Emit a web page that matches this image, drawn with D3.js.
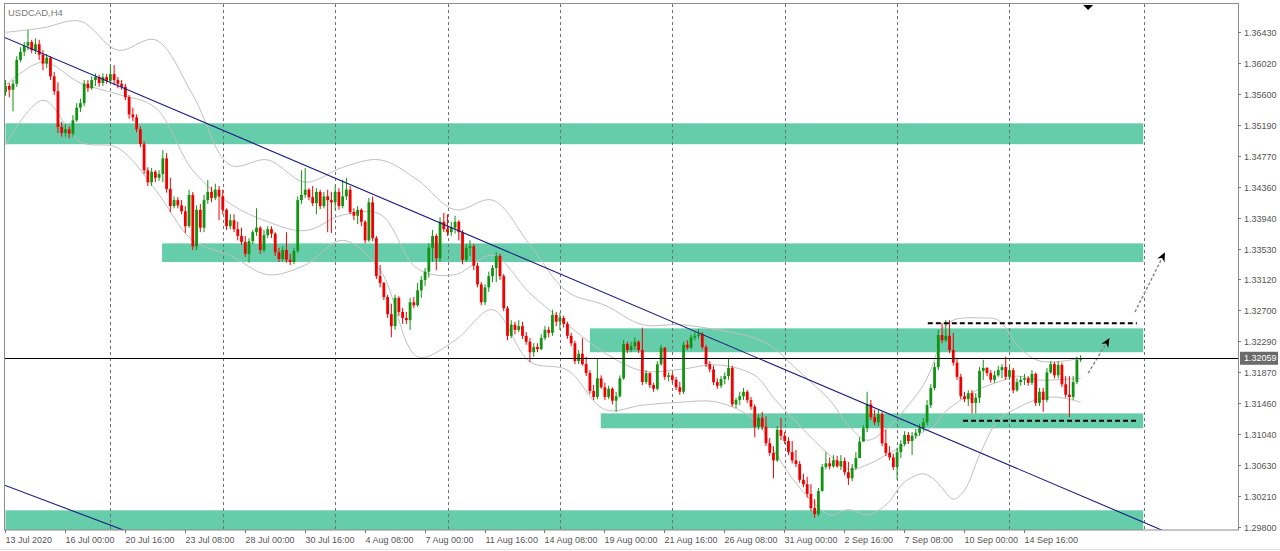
<!DOCTYPE html>
<html><head><meta charset="utf-8">
<script src="https://cdn.jsdelivr.net/npm/d3@7"></script>
<style>body{margin:0;background:#fff;overflow:hidden}</style>
</head><body>
<svg id="chart" width="1280" height="551"></svg>
<script>
const symbolLabel = "USDCAD,H4";
const firstOpen = 1.3563;
const closes = [1.3571,1.3566,1.3574,1.3606,1.3617,1.3625,1.3630,1.3619,1.3627,1.3613,
1.3601,1.3609,1.3584,1.3564,1.3516,1.3508,1.3513,1.3507,1.3525,1.3542,
1.3548,1.3574,1.3568,1.3579,1.3583,1.3575,1.3583,1.3578,1.3587,1.3579,
1.3574,1.3570,1.3556,1.3533,1.3529,1.3513,1.3493,1.3458,1.3442,1.3456,
1.3448,1.3453,1.3474,1.3433,1.3410,1.3418,1.3411,1.3403,1.3383,1.3425,
1.3356,1.3405,1.3381,1.3418,1.3429,1.3421,1.3432,1.3423,1.3405,1.3383,
1.3391,1.3379,1.3370,1.3362,1.3346,1.3363,1.3375,1.3381,1.3351,1.3371,
1.3379,1.3373,1.3348,1.3339,1.3351,1.3338,1.3335,1.3350,1.3418,1.3425,
1.3432,1.3422,1.3414,1.3429,1.3410,1.3423,1.3418,1.3415,1.3429,1.3410,
1.3423,1.3432,1.3402,1.3397,1.3405,1.3389,1.3364,1.3415,1.3367,1.3316,
1.3307,1.3288,1.3265,1.3249,1.3287,1.3268,1.3260,1.3257,1.3281,1.3277,
1.3297,1.3311,1.3322,1.3354,1.3370,1.3340,1.3389,1.3379,1.3375,1.3381,
1.3389,1.3375,1.3338,1.3354,1.3356,1.3330,1.3305,1.3281,1.3301,1.3316,
1.3327,1.3343,1.3316,1.3273,1.3236,1.3251,1.3244,1.3249,1.3236,1.3228,
1.3214,1.3221,1.3218,1.3233,1.3244,1.3240,1.3264,1.3255,1.3260,1.3252,
1.3236,1.3226,1.3202,1.3212,1.3198,1.3186,1.3162,1.3154,1.3179,1.3167,
1.3154,1.3165,1.3149,1.3155,1.3179,1.3225,1.3217,1.3222,1.3228,1.3217,
1.3174,1.3186,1.3170,1.3165,1.3198,1.3220,1.3181,1.3183,1.3177,1.3167,
1.3161,1.3224,1.3220,1.3234,1.3236,1.3238,1.3221,1.3198,1.3191,1.3174,
1.3169,1.3178,1.3182,1.3193,1.3144,1.3150,1.3155,1.3161,1.3150,1.3141,
1.3114,1.3126,1.3114,1.3092,1.3079,1.3069,1.3110,1.3102,1.3095,1.3080,
1.3069,1.3064,1.3043,1.3037,1.3024,1.3005,1.2997,1.3028,1.3060,1.3065,
1.3061,1.3069,1.3061,1.3068,1.3053,1.3045,1.3059,1.3072,1.3094,1.3112,
1.3144,1.3127,1.3120,1.3131,1.3092,1.3079,1.3073,1.3060,1.3080,1.3091,
1.3103,1.3095,1.3102,1.3106,1.3112,1.3120,1.3143,1.3166,1.3194,1.3237,
1.3230,1.3236,1.3217,1.3200,1.3181,1.3155,1.3151,1.3159,1.3146,1.3153,
1.3189,1.3193,1.3186,1.3177,1.3183,1.3190,1.3194,1.3181,1.3190,1.3163,
1.3174,1.3177,1.3179,1.3173,1.3185,1.3146,1.3161,1.3150,1.3187,1.3198,
1.3183,1.3197,1.3171,1.3157,1.3154,1.3174,1.3204,1.32059];
const highs = [1.3579,1.3575,1.3579,1.3611,1.3623,1.3630,1.3646,1.3633,1.3635,1.3633,
1.3619,1.3614,1.3611,1.3590,1.3576,1.3523,1.3520,1.3517,1.3532,1.3548,
1.3554,1.3579,1.3579,1.3584,1.3588,1.3586,1.3588,1.3587,1.3598,1.3599,
1.3583,1.3579,1.3574,1.3559,1.3542,1.3533,1.3517,1.3497,1.3462,1.3461,
1.3458,1.3458,1.3485,1.3481,1.3448,1.3423,1.3422,1.3418,1.3410,1.3432,
1.3429,1.3411,1.3413,1.3425,1.3445,1.3436,1.3440,1.3437,1.3432,1.3407,
1.3399,1.3399,1.3389,1.3381,1.3370,1.3367,1.3378,1.3407,1.3383,1.3378,
1.3383,1.3383,1.3375,1.3354,1.3356,1.3375,1.3346,1.3354,1.3423,1.3458,
1.3461,1.3434,1.3437,1.3434,1.3432,1.3429,1.3432,1.3429,1.3437,1.3434,
1.3445,1.3448,1.3437,1.3407,1.3410,1.3407,1.3391,1.3421,1.3423,1.3370,
1.3331,1.3308,1.3291,1.3279,1.3291,1.3289,1.3273,1.3268,1.3287,1.3288,
1.3307,1.3316,1.3327,1.3360,1.3378,1.3373,1.3395,1.3401,1.3399,1.3389,
1.3397,1.3391,1.3378,1.3359,1.3364,1.3359,1.3334,1.3308,1.3305,1.3322,
1.3331,1.3348,1.3346,1.3319,1.3276,1.3257,1.3255,1.3257,1.3255,1.3241,
1.3233,1.3226,1.3226,1.3238,1.3249,1.3248,1.3271,1.3268,1.3267,1.3263,
1.3255,1.3240,1.3229,1.3217,1.3233,1.3208,1.3190,1.3170,1.3206,1.3183,
1.3173,1.3169,1.3167,1.3161,1.3183,1.3230,1.3228,1.3228,1.3234,1.3230,
1.3247,1.3190,1.3187,1.3173,1.3202,1.3224,1.3221,1.3187,1.3186,1.3181,
1.3174,1.3228,1.3230,1.3238,1.3241,1.3245,1.3241,1.3224,1.3202,1.3196,
1.3179,1.3182,1.3187,1.3206,1.3196,1.3153,1.3161,1.3166,1.3163,1.3154,
1.3144,1.3131,1.3134,1.3128,1.3099,1.3088,1.3115,1.3126,1.3107,1.3100,
1.3095,1.3083,1.3068,1.3051,1.3047,1.3037,1.3017,1.3032,1.3064,1.3080,
1.3073,1.3076,1.3075,1.3076,1.3073,1.3067,1.3064,1.3080,1.3100,1.3116,
1.3161,1.3150,1.3137,1.3137,1.3134,1.3110,1.3088,1.3078,1.3086,1.3096,
1.3108,1.3107,1.3107,1.3111,1.3118,1.3126,1.3150,1.3171,1.3200,1.3244,
1.3253,1.3257,1.3257,1.3240,1.3206,1.3185,1.3161,1.3163,1.3163,1.3159,
1.3194,1.3204,1.3194,1.3190,1.3189,1.3196,1.3198,1.3208,1.3196,1.3193,
1.3179,1.3182,1.3185,1.3182,1.3190,1.3187,1.3166,1.3166,1.3193,1.3202,
1.3201,1.3202,1.3200,1.3182,1.3182,1.3182,1.3208,1.3210];
const lows = [1.3558,1.3556,1.3537,1.3570,1.3603,1.3611,1.3619,1.3615,1.3614,1.3606,
1.3592,1.3595,1.3579,1.3559,1.3508,1.3503,1.3503,1.3501,1.3503,1.3523,
1.3536,1.3544,1.3563,1.3566,1.3571,1.3570,1.3571,1.3574,1.3575,1.3572,
1.3568,1.3566,1.3552,1.3527,1.3524,1.3509,1.3489,1.3453,1.3437,1.3437,
1.3442,1.3444,1.3442,1.3428,1.3402,1.3407,1.3407,1.3399,1.3374,1.3381,
1.3351,1.3351,1.3375,1.3375,1.3413,1.3415,1.3418,1.3391,1.3399,1.3378,
1.3379,1.3375,1.3364,1.3358,1.3342,1.3334,1.3359,1.3370,1.3346,1.3348,
1.3367,1.3367,1.3343,1.3335,1.3336,1.3334,1.3331,1.3332,1.3347,1.3413,
1.3421,1.3418,1.3410,1.3399,1.3406,1.3407,1.3375,1.3374,1.3405,1.3405,
1.3407,1.3418,1.3399,1.3391,1.3386,1.3383,1.3360,1.3362,1.3363,1.3312,
1.3301,1.3284,1.3260,1.3234,1.3244,1.3263,1.3252,1.3252,1.3244,1.3273,
1.3275,1.3287,1.3303,1.3314,1.3335,1.3324,1.3335,1.3375,1.3370,1.3370,
1.3373,1.3364,1.3332,1.3335,1.3343,1.3324,1.3301,1.3277,1.3277,1.3295,
1.3308,1.3308,1.3311,1.3269,1.3230,1.3233,1.3238,1.3241,1.3232,1.3224,
1.3201,1.3208,1.3214,1.3217,1.3230,1.3234,1.3236,1.3249,1.3244,1.3247,
1.3232,1.3222,1.3198,1.3198,1.3196,1.3182,1.3158,1.3150,1.3151,1.3165,
1.3150,1.3151,1.3144,1.3134,1.3153,1.3177,1.3213,1.3214,1.3217,1.3213,
1.3170,1.3171,1.3166,1.3161,1.3163,1.3196,1.3177,1.3175,1.3173,1.3163,
1.3157,1.3158,1.3217,1.3218,1.3230,1.3232,1.3218,1.3194,1.3187,1.3170,
1.3165,1.3166,1.3171,1.3177,1.3141,1.3139,1.3143,1.3150,1.3146,1.3137,
1.3100,1.3110,1.3110,1.3088,1.3075,1.3045,1.3067,1.3096,1.3091,1.3076,
1.3065,1.3060,1.3039,1.3033,1.3019,1.3001,1.2992,1.2994,1.3027,1.3057,
1.3057,1.3059,1.3059,1.3056,1.3049,1.3036,1.3041,1.3056,1.3072,1.3095,
1.3107,1.3123,1.3116,1.3115,1.3088,1.3075,1.3069,1.3056,1.3043,1.3072,
1.3088,1.3091,1.3076,1.3098,1.3102,1.3108,1.3116,1.3139,1.3163,1.3190,
1.3226,1.3228,1.3213,1.3196,1.3177,1.3151,1.3147,1.3142,1.3132,1.3132,
1.3146,1.3177,1.3182,1.3173,1.3173,1.3181,1.3179,1.3177,1.3177,1.3159,
1.3161,1.3169,1.3170,1.3169,1.3170,1.3142,1.3142,1.3134,1.3147,1.3185,
1.3179,1.3179,1.3167,1.3153,1.3127,1.3150,1.3171,1.3201];

const timeLabels = ["13 Jul 2020","16 Jul 00:00","20 Jul 16:00","23 Jul 08:00","28 Jul 00:00","30 Jul 16:00",
"4 Aug 08:00","7 Aug 00:00","11 Aug 16:00","14 Aug 08:00","19 Aug 00:00","21 Aug 16:00",
"26 Aug 08:00","31 Aug 00:00","2 Sep 16:00","7 Sep 08:00","10 Sep 00:00","14 Sep 16:00"];
const timeLabelBars = [0,16,32,48,64,80,96,112,128,144,160,176,192,208,224,240,256,272];
const priceTicks = [1.36430,1.36020,1.35600,1.35190,1.34770,1.34360,1.33940,1.33530,1.33120,
1.32700,1.32290,1.31870,1.31460,1.31040,1.30630,1.30210,1.29800];
const lastPrice = 1.32059;
const gridBars = [28,58,88,118,148,178,208,238,268,303.8];
const shiftBar = 289;

const zoneFrom = [0, 41.8, 156, 158.9, 0];
const zoneTo = [303.7, 303.7, 303.7, 303.7, 303.7];
const zoneTop = [1.3521, 1.3360, 1.3246, 1.3132, 1.3002];
const zoneBottom = [1.3493, 1.3335, 1.3214, 1.3112, 1.2970];

const trendFromBar = [-0.4, -0.4];
const trendFromPrice = [1.36365, 1.30359];
const trendToBar = [308.6, 31.45];
const trendToPrice = [1.29756, 1.29756];

const levelFromBar = [246.2, 255.6];
const levelToBar = [302.0, 301.8];
const levelPrice = [1.32528, 1.31222];

const arrowFromBar = [301.5, 289.0];
const arrowFromPrice = [1.3268, 1.3186];
const arrowToBar = [309.5, 294.7];
const arrowToPrice = [1.3348, 1.3233];

const bandBars = [0,10,20,30,40,50,60,70,80,90,100,110,120,130,140,150,160,170,180,190,200,205,210,215,220,225,230,235,240,245,248,250,253,256,260,265,270,275,280,287];
const bandUpper = [1.3643,1.3649,1.3658,1.3619,1.3633,1.3559,1.3465,1.3472,1.3442,1.3462,1.3472,1.3445,1.3405,1.3418,1.3358,1.3295,1.3277,1.3251,1.3251,1.3244,1.3233,1.3220,1.3197,1.3174,1.3150,1.3116,1.3096,1.3110,1.3137,1.3170,1.3204,1.3244,1.3257,1.3260,1.3260,1.3257,1.3224,1.3204,1.3201,1.3206];
const bandMiddle = [1.3572,1.3603,1.3575,1.3560,1.3542,1.3458,1.3413,1.3389,1.3377,1.3398,1.3399,1.3326,1.3318,1.3344,1.3293,1.3251,1.3213,1.3189,1.3191,1.3197,1.3183,1.3153,1.3126,1.3100,1.3076,1.3057,1.3063,1.3076,1.3090,1.3107,1.3116,1.3130,1.3143,1.3153,1.3165,1.3174,1.3182,1.3177,1.3177,1.3179];
const bandLower = [1.3492,1.3552,1.3496,1.3488,1.3432,1.3364,1.3344,1.3318,1.3331,1.3364,1.3324,1.3208,1.3230,1.3271,1.3201,1.3190,1.3137,1.3143,1.3147,1.3147,1.3123,1.3083,1.3045,1.3016,1.2996,1.3003,1.2996,1.3009,1.3040,1.3051,1.3043,1.3032,1.3017,1.3029,1.3076,1.3123,1.3139,1.3150,1.3154,1.3147];

// ---------- drawing ----------
const W = 1280, H = 551;
const plot = {left: 4, right: 1238, top: 4, bottom: 530};
const svg = d3.select("#chart");
const font = "'Liberation Sans', Arial, sans-serif";

const x = d3.scaleLinear().domain([-0.4, 329]).range([plot.left, plot.right]);
const y = d3.scaleLinear().domain([1.29756, 1.36810]).range([plot.bottom, plot.top]);

svg.append("rect").attr("x",0).attr("y",0).attr("width",W).attr("height",H).attr("fill","#fff");
svg.append("defs").append("clipPath").attr("id","clip")
  .append("rect").attr("x",plot.left).attr("y",plot.top)
  .attr("width",plot.right-plot.left).attr("height",plot.bottom-plot.top);

const g = svg.append("g").attr("clip-path","url(#clip)");

// zones
g.selectAll("rect.zone").data(zoneFrom.map((f,i)=>i)).join("rect")
  .attr("class","zone")
  .attr("x", i=>x(zoneFrom[i]))
  .attr("width", i=>x(zoneTo[i])-x(zoneFrom[i]))
  .attr("y", i=>y(zoneTop[i]))
  .attr("height", i=>y(zoneBottom[i])-y(zoneTop[i]))
  .attr("fill","#66cdaa");

// grid
g.selectAll("line.grid").data(gridBars).join("line")
  .attr("x1", d=>Math.round(x(d))+0.5).attr("x2", d=>Math.round(x(d))+0.5)
  .attr("y1", plot.top).attr("y2", plot.bottom)
  .attr("stroke","#707070").attr("stroke-width",1).attr("stroke-dasharray","3,3");

// bollinger bands
const bandLine = arr => d3.line().x((d,i)=>x(bandBars[i])).y((d,i)=>y(arr[i])).curve(d3.curveCatmullRom.alpha(0.5));
[bandUpper, bandMiddle, bandLower].forEach(arr=>{
  g.append("path").attr("d", bandLine(arr)(arr)).attr("fill","none")
    .attr("stroke","#c0c0c0").attr("stroke-width",1);
});

// candles
const bars = closes.map((c,i)=>({i, o: i===0?firstOpen:closes[i-1], h: highs[i], l: lows[i], c}));
const cg = g.append("g");
bars.forEach(b=>{
  const up = b.c >= b.o;
  const col = up ? "#129312" : "#f20000";
  const cx = x(b.i);
  cg.append("line").attr("x1",cx).attr("x2",cx).attr("y1",y(b.h)).attr("y2",y(b.l))
    .attr("stroke",col).attr("stroke-width",1);
  const top = y(Math.max(b.o,b.c)), bot = y(Math.min(b.o,b.c));
  cg.append("rect").attr("x",cx-1.4).attr("width",2.8)
    .attr("y",top).attr("height",Math.max(1,bot-top)).attr("fill",col);
});

// trend lines
trendFromBar.forEach((fb,i)=>{
  g.append("line").attr("x1",x(fb)).attr("y1",y(trendFromPrice[i]))
    .attr("x2",x(trendToBar[i])).attr("y2",y(trendToPrice[i]))
    .attr("stroke","#1c1c80").attr("stroke-width",1.1);
});

// level dashed lines
levelPrice.forEach((p,i)=>{
  g.append("line").attr("x1",x(levelFromBar[i])).attr("x2",x(levelToBar[i]))
    .attr("y1",y(p)).attr("y2",y(p))
    .attr("stroke","#000").attr("stroke-width",2).attr("stroke-dasharray","5,3");
});

// arrows
arrowFromBar.forEach((fb,i)=>{
  const x1=x(fb), y1=y(arrowFromPrice[i]), x2=x(arrowToBar[i]), y2=y(arrowToPrice[i]);
  const ang = Math.atan2(y2-y1, x2-x1);
  const L = 9, Wd = 4;
  const bx = x2 - L*Math.cos(ang), by = y2 - L*Math.sin(ang);
  g.append("line").attr("x1",x1).attr("y1",y1).attr("x2",bx).attr("y2",by)
    .attr("stroke","#8a8a8a").attr("stroke-width",1.5).attr("stroke-dasharray","3,2");
  const px = -Math.sin(ang), py = Math.cos(ang);
  const back = 2.5;
  const nx = x2 - (L-back)*Math.cos(ang), ny = y2 - (L-back)*Math.sin(ang);
  g.append("path").attr("d",`M${x2},${y2}L${bx+px*Wd},${by+py*Wd}L${nx},${ny}L${bx-px*Wd},${by-py*Wd}Z`)
    .attr("fill","#000");
});

// current price line
g.append("line").attr("x1",plot.left).attr("x2",plot.right)
  .attr("y1",Math.round(y(lastPrice))+0.5).attr("y2",Math.round(y(lastPrice))+0.5)
  .attr("stroke","#000").attr("stroke-width",1);

// shift marker
const sx = x(shiftBar);
svg.append("path").attr("d",`M${sx-5},${plot.top+1}L${sx+5},${plot.top+1}L${sx},${plot.top+6}Z`).attr("fill","#000");

// frame
svg.append("rect").attr("x",plot.left+0.5).attr("y",plot.top-0.5)
  .attr("width",plot.right-plot.left).attr("height",plot.bottom-plot.top+0.5)
  .attr("fill","none").attr("stroke","#8c8c8c").attr("stroke-width",1);
svg.append("line").attr("x1",0).attr("x2",W).attr("y1",549.5).attr("y2",549.5).attr("stroke","#e0e0e0");

// price axis
const fmt = d3.format(".5f");
const pa = svg.append("g");
priceTicks.forEach(p=>{
  const yy = Math.round(y(p))+0.5;
  pa.append("line").attr("x1",plot.right).attr("x2",plot.right+3).attr("y1",yy).attr("y2",yy).attr("stroke","#777");
  pa.append("text").attr("x",plot.right+6).attr("y",yy+3.2).text(fmt(p))
    .attr("font-family",font).attr("font-size","9px").attr("fill","#555");
});
const ly = y(lastPrice);
pa.append("rect").attr("x",plot.right+2).attr("y",ly-6.5).attr("width",38).attr("height",13).attr("fill","#6a6a6a");
pa.append("text").attr("x",plot.right+6).attr("y",ly+3.2).text(fmt(lastPrice))
  .attr("font-family",font).attr("font-size","9px").attr("fill","#fff");

// time axis
const ta = svg.append("g");
timeLabelBars.forEach((b,i)=>{
  const xx = Math.round(x(b)-0.5)+0.5;
  ta.append("line").attr("x1",xx).attr("x2",xx).attr("y1",plot.bottom).attr("y2",plot.bottom+3).attr("stroke","#777");
  ta.append("text").attr("x",xx).attr("y",543).text(timeLabels[i])
    .attr("font-family",font).attr("font-size","9px").attr("fill","#555");
});

// title
svg.append("text").attr("x",8).attr("y",16).text(symbolLabel)
  .attr("font-family",font).attr("font-size","9.5px").attr("fill","#7a7a7a");
</script>
</body></html>
